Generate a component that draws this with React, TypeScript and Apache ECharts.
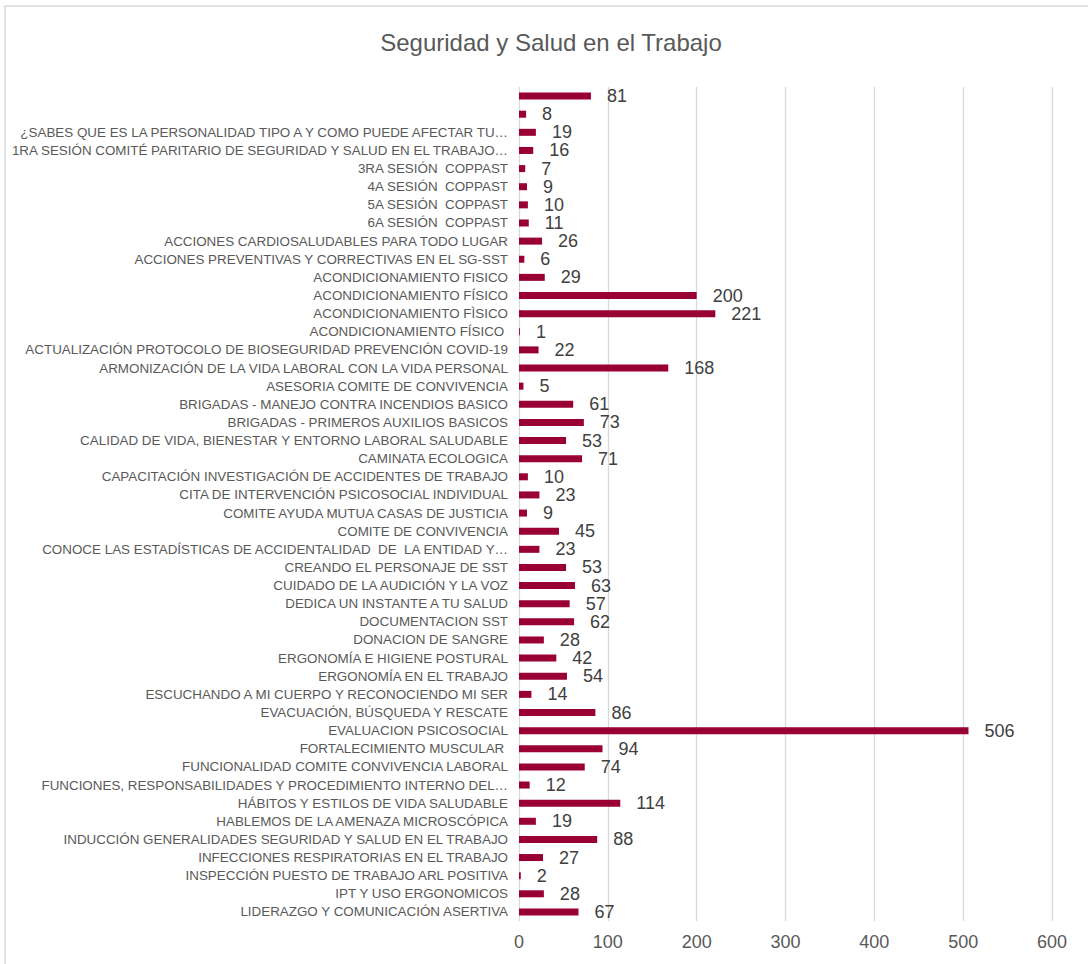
import React, { useEffect, useRef } from "react";
import * as echarts from "echarts";

const TITLE = "Seguridad y Salud en el Trabajo";

const categories: string[] = [
  "",
  " ",
  "¿SABES QUE ES LA PERSONALIDAD TIPO A Y COMO PUEDE AFECTAR TU…",
  "1RA SESIÓN COMITÉ PARITARIO DE SEGURIDAD Y SALUD EN EL TRABAJO…",
  "3RA SESIÓN  COPPAST",
  "4A SESIÓN  COPPAST",
  "5A SESIÓN  COPPAST",
  "6A SESIÓN  COPPAST",
  "ACCIONES CARDIOSALUDABLES PARA TODO LUGAR",
  "ACCIONES PREVENTIVAS Y CORRECTIVAS EN EL SG-SST",
  "ACONDICIONAMIENTO FISICO",
  "ACONDICIONAMIENTO FÍSICO",
  "ACONDICIONAMIENTO FÌSICO",
  "ACONDICIONAMIENTO FÍSICO ",
  "ACTUALIZACIÓN PROTOCOLO DE BIOSEGURIDAD PREVENCIÓN COVID-19",
  "ARMONIZACIÓN DE LA VIDA LABORAL CON LA VIDA PERSONAL",
  "ASESORIA COMITE DE CONVIVENCIA",
  "BRIGADAS - MANEJO CONTRA INCENDIOS BASICO",
  "BRIGADAS - PRIMEROS AUXILIOS BASICOS",
  "CALIDAD DE VIDA, BIENESTAR Y ENTORNO LABORAL SALUDABLE",
  "CAMINATA ECOLOGICA",
  "CAPACITACIÓN INVESTIGACIÓN DE ACCIDENTES DE TRABAJO",
  "CITA DE INTERVENCIÓN PSICOSOCIAL INDIVIDUAL",
  "COMITE AYUDA MUTUA CASAS DE JUSTICIA",
  "COMITE DE CONVIVENCIA",
  "CONOCE LAS ESTADÍSTICAS DE ACCIDENTALIDAD  DE  LA ENTIDAD Y…",
  "CREANDO EL PERSONAJE DE SST",
  "CUIDADO DE LA AUDICIÓN Y LA VOZ",
  "DEDICA UN INSTANTE A TU SALUD",
  "DOCUMENTACION SST",
  "DONACION DE SANGRE",
  "ERGONOMÍA E HIGIENE POSTURAL",
  "ERGONOMÍA EN EL TRABAJO",
  "ESCUCHANDO A MI CUERPO Y RECONOCIENDO MI SER",
  "EVACUACIÓN, BÚSQUEDA Y RESCATE",
  "EVALUACION PSICOSOCIAL",
  "FORTALECIMIENTO MUSCULAR ",
  "FUNCIONALIDAD COMITE CONVIVENCIA LABORAL",
  "FUNCIONES, RESPONSABILIDADES Y PROCEDIMIENTO INTERNO DEL…",
  "HÁBITOS Y ESTILOS DE VIDA SALUDABLE",
  "HABLEMOS DE LA AMENAZA MICROSCÓPICA",
  "INDUCCIÓN GENERALIDADES SEGURIDAD Y SALUD EN EL TRABAJO",
  "INFECCIONES RESPIRATORIAS EN EL TRABAJO",
  "INSPECCIÓN PUESTO DE TRABAJO ARL POSITIVA",
  "IPT Y USO ERGONOMICOS",
  "LIDERAZGO Y COMUNICACIÓN ASERTIVA",
];

const values: number[] = [
  81, 8, 19, 16, 7, 9, 10, 11, 26, 6, 29, 200, 221, 1, 22, 168, 5, 61, 73, 53,
  71, 10, 23, 9, 45, 23, 53, 63, 57, 62, 28, 42, 54, 14, 86, 506, 94, 74, 12,
  114, 19, 88, 27, 2, 28, 67,
];

const X_MIN = 0;
const X_MAX = 600;
const X_STEP = 100;

const FONT = "'Liberation Sans', Arial, sans-serif";

export default function App() {
  const ref = useRef<HTMLDivElement>(null);

  useEffect(() => {
    if (!ref.current) return;
    const chart = echarts.init(ref.current, undefined, { renderer: "svg" });
    chart.setOption({
      animation: false,
      backgroundColor: "#ffffff",
      textStyle: { fontFamily: FONT },
      title: {
        text: TITLE,
        left: 546,
        textAlign: "center",
        top: 25,
        textStyle: {
          fontFamily: FONT,
          fontSize: 24,
          fontWeight: "normal",
          color: "#595959",
        },
      },
      graphic: [
        {
          type: "rect",
          shape: { x: 5, y: 6, width: 1200, height: 1100 },
          style: { fill: "none", stroke: "#d9d9d9", lineWidth: 1.5 },
          silent: true,
          z: -1,
        },
      ],
      grid: {
        left: 519,
        right: 36,
        top: 87,
        bottom: 43,
      },
      xAxis: {
        type: "value",
        min: X_MIN,
        max: X_MAX,
        interval: X_STEP,
        axisLine: { show: false },
        axisTick: { show: false },
        splitLine: { show: true, lineStyle: { color: "#d9d9d9", width: 1.3 } },
        axisLabel: {
          fontFamily: FONT,
          fontSize: 18,
          color: "#595959",
          margin: 12,
        },
      },
      yAxis: {
        type: "category",
        inverse: true,
        data: categories,
        axisLine: { show: false },
        axisTick: { show: false },
        axisLabel: {
          fontFamily: FONT,
          fontSize: 13.4,
          color: "#595959",
          margin: 11,
          interval: 0,
        },
      },
      series: [
        {
          type: "bar",
          data: values,
          barWidth: 7,
          itemStyle: { color: "#990033" },
          label: {
            show: true,
            position: "right",
            distance: 16,
            fontFamily: FONT,
            fontSize: 18,
            color: "#404040",
          },
        },
      ],
    });
    return () => chart.dispose();
  }, []);

  return (
    <div
      ref={ref}
      style={{ position: "absolute", left: 0, top: 0, width: 1088, height: 964 }}
    />
  );
}
